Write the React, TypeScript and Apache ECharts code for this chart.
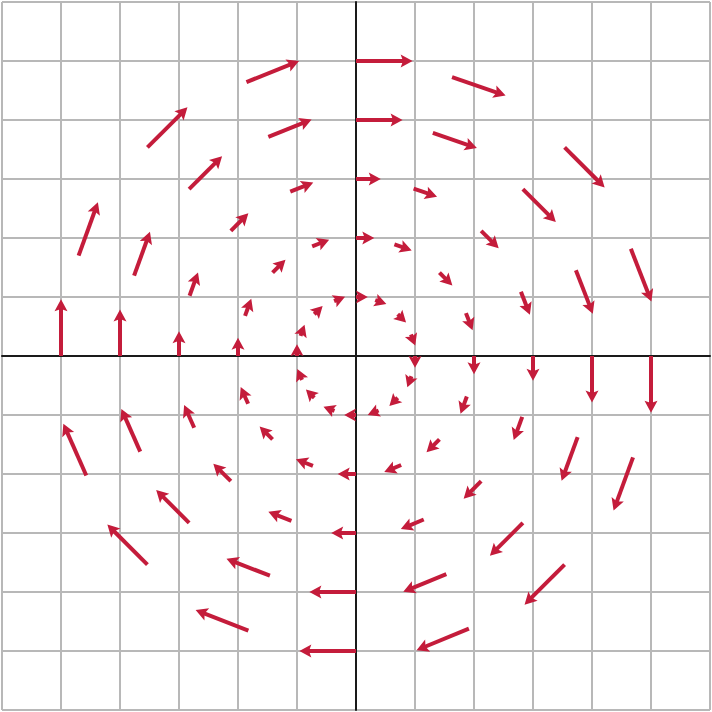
import React, { useEffect, useRef } from "react";
import * as echarts from "echarts";

// Vector field sampled on concentric rings (clockwise rotation field)
const ringRadii = [1, 2, 3, 4, 5];
// arrow length (axis units) read per ring
const arrowLengths = [0.2, 0.31, 0.42, 0.79, 0.96];
// sample angles in degrees on each ring
const sampleAngles = [0, 21.3, 45, 71, 90, 111.8, 135, 160.1, 180, 203.9, 225, 248.6, 270, 292.5, 315, 339.9];
const axisMin = -6;
const axisMax = 6;
const axisInterval = 1;

const ARROW_COLOR = "#c41c3b";

function buildData() {
  const out: number[][] = [];
  ringRadii.forEach((r, i) => {
    const len = arrowLengths[i];
    sampleAngles.forEach((deg) => {
      const t = (deg * Math.PI) / 180;
      const x = r * Math.cos(t);
      const y = r * Math.sin(t);
      // tangent (clockwise) direction: (sin t, -cos t)
      const dx = len * Math.sin(t);
      const dy = -len * Math.cos(t);
      out.push([x, y, dx, dy]);
    });
  });
  return out;
}

export default function App() {
  const ref = useRef<HTMLDivElement>(null);
  useEffect(() => {
    if (!ref.current) return;
    const chart = echarts.init(ref.current, undefined, { renderer: "svg" });
    const axisCommon = {
      type: "value",
      min: axisMin,
      max: axisMax,
      interval: axisInterval,
      axisLabel: { show: false },
      axisTick: { show: false },
      axisLine: { show: true, onZero: true, lineStyle: { color: "#1a1a1a", width: 2 } },
      splitLine: { show: true, showMinLine: true, showMaxLine: true, lineStyle: { color: "#b8b8b8", width: 2 } },
    };
    chart.setOption({
      animation: false,
      backgroundColor: "#ffffff",
      grid: { left: 2, right: 2, top: 2, bottom: 2, containLabel: false },
      xAxis: { ...axisCommon },
      yAxis: { ...axisCommon },
      series: [
        {
          type: "custom",
          coordinateSystem: "cartesian2d",
          data: buildData(),
          renderItem: (params: any, api: any) => {
            const x = api.value(0);
            const y = api.value(1);
            const dx = api.value(2);
            const dy = api.value(3);
            const p0 = api.coord([x, y]);
            const p1 = api.coord([x + dx, y + dy]);
            const vx = p1[0] - p0[0];
            const vy = p1[1] - p0[1];
            const L = Math.sqrt(vx * vx + vy * vy) || 1;
            const ux = vx / L;
            const uy = vy / L;
            const nx = -uy;
            const ny = ux;
            const headLen = Math.min(12, L);
            const headW = 13;
            const bx = p1[0] - ux * headLen;
            const by = p1[1] - uy * headLen;
            const notch = headLen * 0.8;
            const children: any[] = [];
            const shaftEnd = [p1[0] - ux * headLen * 0.7, p1[1] - uy * headLen * 0.7];
            if (L > headLen * 0.75) {
              children.push({
                type: "line",
                shape: { x1: p0[0], y1: p0[1], x2: shaftEnd[0], y2: shaftEnd[1] },
                style: { stroke: ARROW_COLOR, lineWidth: 4 },
              });
            }
            children.push({
              type: "polygon",
              shape: {
                points: [
                  [p1[0], p1[1]],
                  [bx + (nx * headW) / 2, by + (ny * headW) / 2],
                  [p1[0] - ux * notch, p1[1] - uy * notch],
                  [bx - (nx * headW) / 2, by - (ny * headW) / 2],
                ],
              },
              style: { fill: ARROW_COLOR },
            });
            return { type: "group", children };
          },
          z: 5,
        },
      ],
    });
    return () => chart.dispose();
  }, []);
  return (
    <div
      ref={ref}
      style={{ position: "absolute", left: 0, top: 0, width: 712, height: 712, background: "#fff" }}
    />
  );
}
